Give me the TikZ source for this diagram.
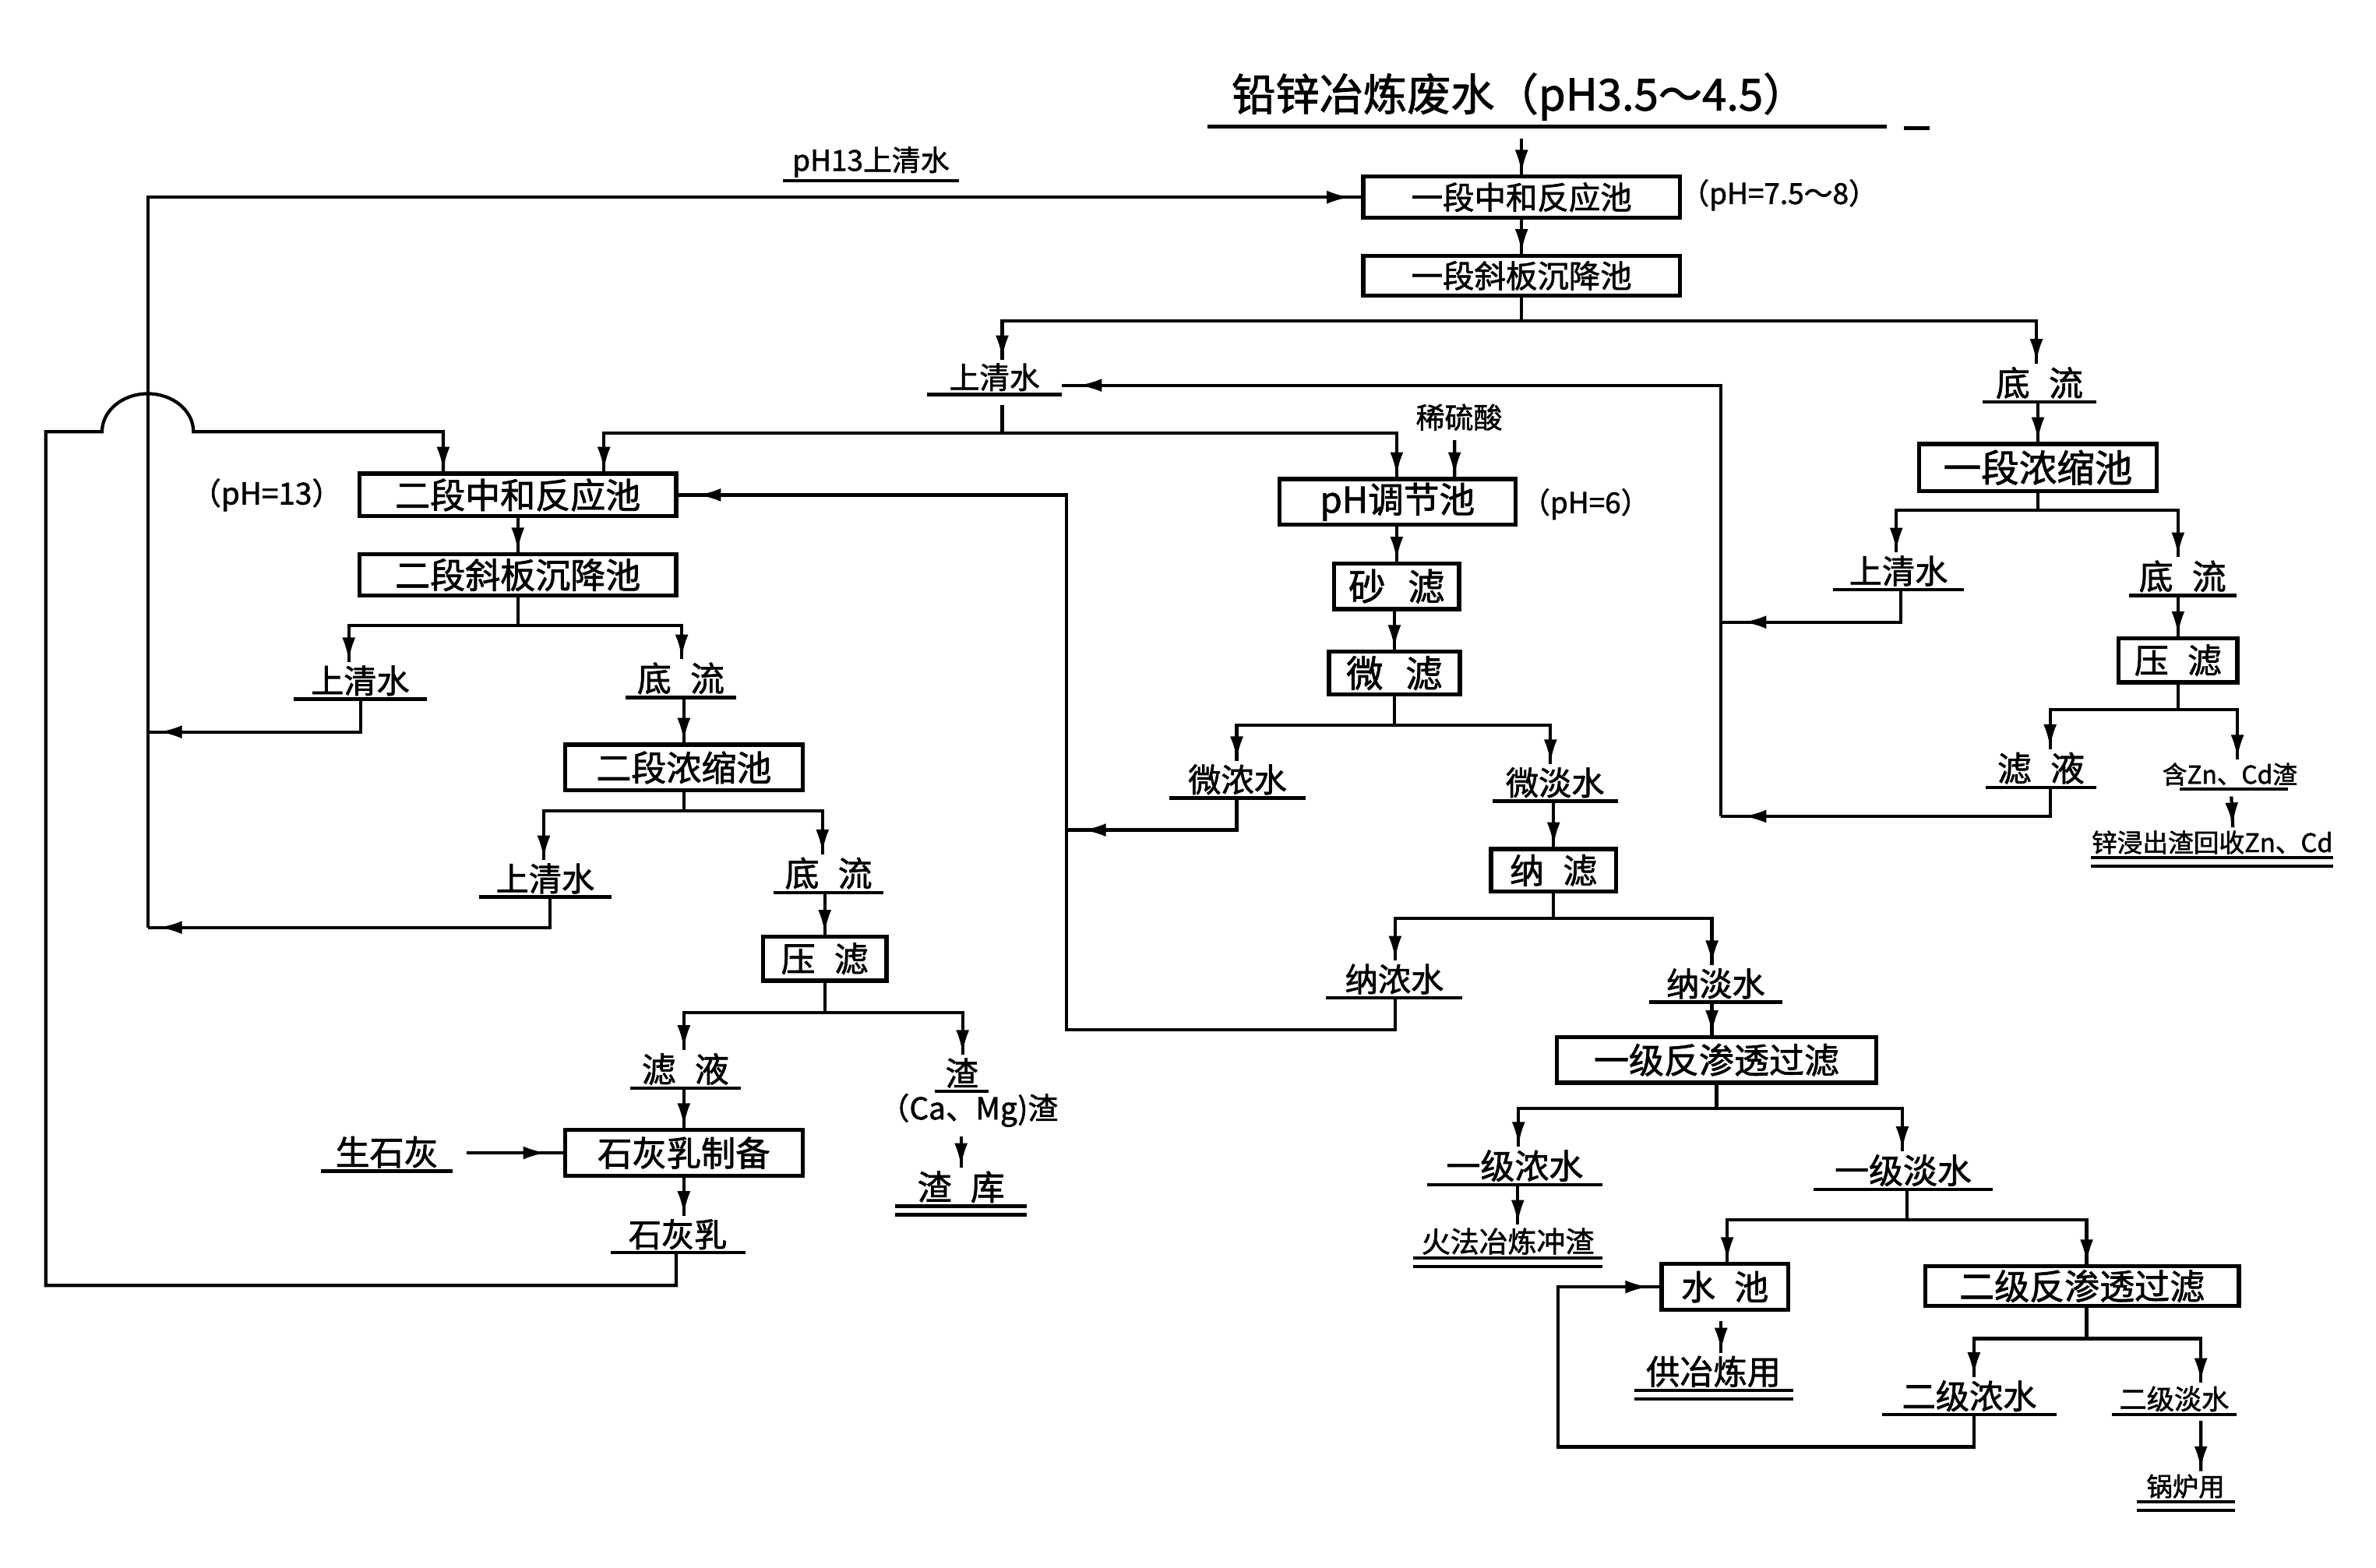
\documentclass[tikz,border=0pt]{standalone}
\usepackage{fontspec}
\setmainfont{Noto Sans CJK SC}[BoldFont={Noto Sans CJK SC}, BoldFeatures={FakeBold=1.6}]
\usetikzlibrary{arrows.meta,decorations.markings,calc}
\newcommand\du{0.01955cm}
\newcommand\fsz[1]{\fontsize{#1}{#1}\selectfont\bfseries}
\tikzset{
  ln/.style={line width=1.2pt},
  flow/.style={ln, decoration={markings, mark=at position -#1 with {\arrow{Latex[length=3mm,width=1.7mm]}}}, postaction={decorate}},
  flow/.default=0.5pt,
  box/.style={draw, line width=1.5pt, inner sep=0pt, align=center},
  lab/.style={inner ysep=1pt, inner xsep=#1, anchor=south,
    append after command={(\tikzlastnode.south west) edge[ln] (\tikzlastnode.south east)}},
  lab/.default=5pt,
  dlab/.style={lab=#1,
    append after command={([yshift=-1.1mm]\tikzlastnode.south west) edge[ln] ([yshift=-1.1mm]\tikzlastnode.south east)}},
  dlab/.default=3pt,
  txt/.style={inner sep=0pt},
}
\begin{document}
\begin{tikzpicture}[x=0.01955cm, y=-0.01955cm]
\fill[white] (0,0) rectangle (1560,1029.2);
\useasboundingbox (0,0) rectangle (1560,1029.2);

% ---------- title ----------
\node[txt, font=\fsz{16}] (T) at (997.5,63.5) {铅锌冶炼废水（pH3.5～4.5）};
\draw[line width=1.4pt] (793,83) -- (1239,83);
\draw[line width=1.4pt] (1250,84) -- (1267,84);
\coordinate (tIn) at (999,91);

% ---------- boxes ----------
\node[box, minimum width=208*\du, minimum height=27*\du, font=\fsz{11.5}] (b1) at (999,129.5) {一段中和反应池};
\node[box, minimum width=208*\du, minimum height=26*\du, font=\fsz{11.5}] (b2) at (999,181) {一段斜板沉降池};
\node[box, minimum width=156*\du, minimum height=31*\du, font=\fsz{13.8}] (b3) at (1338,307) {一段浓缩池};
\node[box, minimum width=78*\du, minimum height=29*\du, font=\fsz{12.5}] (b4) at (1430,433.5) {压\hspace{0.55em}滤};
\node[box, minimum width=208*\du, minimum height=28*\du, font=\fsz{12.8}] (b5) at (340,325) {二段中和反应池};
\node[box, minimum width=208*\du, minimum height=27*\du, font=\fsz{12.8}] (b6) at (340,377.5) {二段斜板沉降池};
\node[box, minimum width=156*\du, minimum height=30*\du, font=\fsz{12.8}] (b7) at (449,504) {二段浓缩池};
\node[box, minimum width=81*\du, minimum height=29*\du, font=\fsz{12.5}] (b8) at (541.5,629.5) {压\hspace{0.55em}滤};
\node[box, minimum width=156*\du, minimum height=30*\du, font=\fsz{12.6}] (b9) at (449,757) {石灰乳制备};
\node[box, minimum width=155*\du, minimum height=30*\du, font=\fsz{13}] (b10) at (917.5,329.5) {pH调节池};
\node[box, minimum width=82*\du, minimum height=30*\du, font=\fsz{13.5}] (b11) at (917,385) {砂\hspace{0.6em}滤};
\node[box, minimum width=86*\du, minimum height=28*\du, font=\fsz{13.5}] (b12) at (915.5,442) {微\hspace{0.6em}滤};
\node[box, minimum width=82*\du, minimum height=28*\du, font=\fsz{12.5}] (b13) at (1020,571.5) {纳\hspace{0.55em}滤};
\node[box, minimum width=210*\du, minimum height=30*\du, font=\fsz{12.8}] (b14) at (1127,696) {一级反渗透过滤};
\node[box, minimum width=83*\du, minimum height=30*\du, font=\fsz{12.5}] (b15) at (1132.5,845) {水\hspace{0.55em}池};
\node[box, minimum width=206*\du, minimum height=26*\du, font=\fsz{12.8}] (b16) at (1367,844.5) {二级反渗透过滤};

% ---------- plain texts ----------
\node[txt, font=\fsz{10.5}] (T_ph78) at (1168,128) {（pH=7.5～8）};
\node[txt, font=\fsz{10.5}] (T_ph6) at (1041,331) {（pH=6）};
\node[txt, font=\fsz{11}] (T_ph13) at (175,325) {（pH=13）};
\node[txt, font=\fsz{10.5}] (T_acid) at (958,274) {稀硫酸};
\node[txt, font=\fsz{11}] (T_camg) at (636,729) {（Ca、Mg)渣};

% ---------- underlined labels ----------
\node[lab=3.2pt, font=\fsz{10.5}] (L_pH13) at (571.8,118.6) {pH13上清水};
\node[lab=7.9pt, font=\fsz{11}] (L_sq1) at (653,259) {上清水};
\node[lab=4.5pt, font=\fsz{12.5}] (L_dl1) at (1339,264) {底\hspace{0.55em}流};
\node[lab=5.6pt, font=\fsz{12}] (L_sq2) at (1246.5,387) {上清水};
\node[lab=3.5pt, font=\fsz{12.5}] (L_dl2) at (1433,391) {底\hspace{0.55em}流};
\node[lab=4pt, font=\fsz{12.5}] (L_ly1) at (1340,517) {滤\hspace{0.55em}液};
\node[txt, anchor=south, inner ysep=1pt, font=\fsz{9}] (L_zn) at (1464,518) {含Zn、Cd渣};
\draw[ln] ($(L_zn.south)+(-33,0)$) -- ($(L_zn.south)+(38,0)$);
\node[dlab=0pt, font=\fsz{9.3}] (L_rec) at (1452.5,563) {锌浸出渣回收Zn、Cd};
\node[lab=6.1pt, font=\fsz{12}] (L_sq3) at (236.5,459) {上清水};
\node[lab=4pt, font=\fsz{12.5}] (L_dl3) at (447,458) {底\hspace{0.55em}流};
\node[lab=5.9pt, font=\fsz{12}] (L_sq4) at (358,589) {上清水};
\node[lab=4pt, font=\fsz{12.5}] (L_dl4) at (544,586) {底\hspace{0.55em}流};
\node[lab=4pt, font=\fsz{12.5}] (L_ly2) at (450,714.6) {滤\hspace{0.55em}液};
\node[lab=3.7pt, font=\fsz{12}] (L_zha) at (631.5,716.5) {渣};
\node[dlab=7.9pt, font=\fsz{12.5}] (L_zk) at (631,792) {渣\hspace{0.55em}库};
\node[lab=5.1pt, font=\fsz{12.5}] (L_sl) at (254,769) {生石灰};
\node[lab=6.4pt, font=\fsz{12}] (L_slr) at (445,822.6) {石灰乳};
\node[lab=6.7pt, font=\fsz{12}] (L_wn) at (812.5,524) {微浓水};
\node[lab=4.7pt, font=\fsz{12}] (L_wd) at (1021,526) {微淡水};
\node[lab=6.7pt, font=\fsz{12}] (L_nn) at (915.5,655) {纳浓水};
\node[lab=6.1pt, font=\fsz{12}] (L_nd) at (1126.5,658) {纳淡水};
\node[lab=6.9pt, font=\fsz{12.5}] (L_yn) at (994.5,778) {一级浓水};
\node[lab=7.4pt, font=\fsz{12.5}] (L_yd) at (1249.5,781) {一级淡水};
\node[dlab=2.9pt, font=\fsz{10.5}] (L_hf) at (990,826) {火法冶炼冲渣};
\node[dlab=4.2pt, font=\fsz{12.3}] (L_gy) at (1125,913) {供冶炼用};
\node[lab=7pt, font=\fsz{12.3}] (L_en) at (1293,929) {二级浓水};
\node[lab=2.5pt, font=\fsz{10}] (L_ed) at (1427.5,929) {二级淡水};
\node[dlab=3.5pt, font=\fsz{9.5}] (L_gl) at (1435,986) {锅炉用};

% ---------- junctions / collector coordinates ----------
\coordinate (j1) at (999,210.6);
\coordinate (j2) at (1338,335);
\coordinate (j3) at (1430,466);
\coordinate (jM) at (658,284.5);
\coordinate (jW) at (915.5,476);
\coordinate (jN) at (1020,603);
\coordinate (jY) at (1127,728);
\coordinate (jS) at (1252,801);
\coordinate (jE) at (1370,879);
\coordinate (j6) at (340,410.7);
\coordinate (j7) at (449,532.6);
\coordinate (j8) at (541.5,665);
\coordinate (cLa) at (97,480.6);
\coordinate (cLb) at (97,609);
\coordinate (cRt) at (1130,253);
\coordinate (cRm) at (1130,408.5);
\coordinate (cRb) at (1130,536);
\coordinate (cCm) at (700,545);
\coordinate (cCb) at (700,676);
\coordinate (lpA) at (30,844);
\coordinate (lpB) at (30,283.5);
\coordinate (bumpL) at (67,283.5);
\coordinate (rbA) at (1023,950);
\coordinate (slS) at ($(L_sl.east)+(9,0)$);

% ---------- first stage ----------
\draw[flow] (tIn) -- (b1.north);
\draw[flow] (b1.south) -- (b2.north);
\draw[ln] (b2.south) -- (j1);
\draw[flow] (j1) -| ($(L_sq1.north)+(5,0)$);
\draw[flow] (j1) -| ($(L_dl1.north)+(-2,0)$);
\draw[flow] (L_dl1.south -| b3.north) -- (b3.north);
\draw[ln] (b3.south) -- (j2);
\draw[flow] (j2) -| ($(L_sq2.north)+(-1.5,0)$);
\draw[flow] (j2) -| ($(L_dl2.north)+(-3,0)$);
\draw[flow] (L_dl2.south -| b4.north) -- (b4.north);
\draw[ln] (b4.south) -- (j3);
\draw[flow] (j3) -| ($(L_ly1.north)+(6,0)$);
\draw[flow] (j3) -| ($(L_zn.north)+(5,0)$);
\draw[flow] ($(L_zn.south)+(1,5)$) -- ($(L_rec.north)+(13.5,0)$);

% right collector back to upper clear water
\draw[flow=6pt] (cRb) -- (cRt) -- (cRt -| L_sq1.east);
\draw[flow=8pt] ($(L_sq2.south)+(1.5,0)$) |- (cRm);
\draw[flow=8pt] ($(L_ly1.south)+(6,0)$) |- (cRb);

% ---------- upper clear water distribution ----------
\draw[ln] ($(L_sq1.south)+(5,7)$) -- (jM);
\draw[flow] (jM) -| ($(b5.north)+(56.5,0)$);
\draw[flow] (jM) -| ($(b10.north)+(-0.5,0)$);
\draw[flow] ($(T_acid.south)+(-3,6)$) -- ($(b10.north)+(37.5,0)$);

% ---------- membrane line ----------
\draw[flow] (b10.south -| b11.north) -- (b11.north);
\draw[flow] (b11.south -| b12.north) -- (b12.north);
\draw[ln] (b12.south) -- (jW);
\draw[flow] (jW) -| ($(L_wn.north)+(-0.5,0)$);
\draw[flow] (jW) -| ($(L_wd.north)+(-3,0)$);
\draw[flow=6pt] ($(L_wn.south)+(-0.5,0)$) |- (cCm);
\draw[flow] (L_wd.south -| b13.north) -- (b13.north);
\draw[ln] (b13.south) -- (jN);
\draw[flow] (jN) -| ($(L_nn.north)+(0.5,0)$);
\draw[flow] (jN) -| ($(L_nd.north)+(-2.5,0)$);
\draw[flow=7pt] ($(L_nn.south)+(0.5,0)$) |- (cCb) |- (b5.east);
\draw[flow] ($(L_nd.south)+(-2.5,0)$) -- ($(b14.north)+(-3,0)$);
\draw[ln] (b14.south) -- (jY);
\draw[flow] (jY) -| ($(L_yn.north)+(2.5,0)$);
\draw[flow] (jY) -| ($(L_yd.north)+(-0.5,0)$);
\draw[flow] ($(L_yn.south)+(2,0)$) -- ($(L_hf.north)+(6.5,0)$);
\draw[ln] ($(L_yd.south)+(2.5,0)$) -- (jS);
\draw[flow] (jS) -| ($(b15.north)+(1.5,0)$);
\draw[flow] (jS) -| ($(b16.north)+(3,0)$);
\draw[flow] ($(b15.south)+(-2.5,6)$) -- ($(L_gy.north)+(5,0)$);
\draw[ln] ($(b16.south)+(3,0)$) -- (jE);
\draw[flow] (jE) -| ($(L_en.north)+(3,0)$);
\draw[flow] (jE) -| ($(L_ed.north)+(17.5,0)$);
\draw[flow=4pt] ($(L_en.south)+(3,0)$) |- (rbA) |- (b15.west);
\draw[flow] ($(L_ed.south)+(17.5,4)$) -- ($(L_gl.north)+(10,0)$);

% ---------- second stage ----------
\draw[flow] (b5.south) -- (b6.north);
\draw[ln] (b6.south) -- (j6);
\draw[flow] (j6) -| ($(L_sq3.north)+(-7.5,0)$);
\draw[flow] (j6) -| ($(L_dl3.north)+(0.6,0)$);
\draw[flow] (L_dl3.south -| b7.north) -- (b7.north);
\draw[ln] (b7.south) -- (j7);
\draw[flow] (j7) -| ($(L_sq4.north)+(-1,0)$);
\draw[flow] (j7) -| ($(L_dl4.north)+(-4,0)$);
\draw[flow] (L_dl4.south -| b8.north) -- (b8.north);
\draw[ln] (b8.south) -- (j8);
\draw[flow] (j8) -| ($(L_ly2.north)+(-1,0)$);
\draw[flow] (j8) -| ($(L_zha.north)+(0.5,0)$);
\draw[flow] (L_ly2.south -| b9.north) -- (b9.north);
\draw[flow] ($(T_camg.south -| L_zk.north)+(0,6)$) -- (L_zk.north);
\draw[flow=6pt] (slS |- b9.west) -- (b9.west);
\draw[flow] (b9.south) -- (b9.south |- L_slr.north);

% pH13 clear water back to stage one
\draw[flow=4pt] ($(L_sq3.south)+(0.5,0)$) |- (cLa);
\draw[flow=4pt] ($(L_sq4.south)+(3,0)$) |- (cLb);
\draw[flow=4pt] (cLb) |- (b1.west);

% lime milk loop with line-jump
\draw[flow] ($(L_slr.south)+(-1,0)$) |- (lpA) -- (lpB) -- (bumpL)
   arc[start angle=180, end angle=360, x radius=30, y radius=25]
   -| ($(b5.north)+(-49,0)$);
\end{tikzpicture}
\end{document}
